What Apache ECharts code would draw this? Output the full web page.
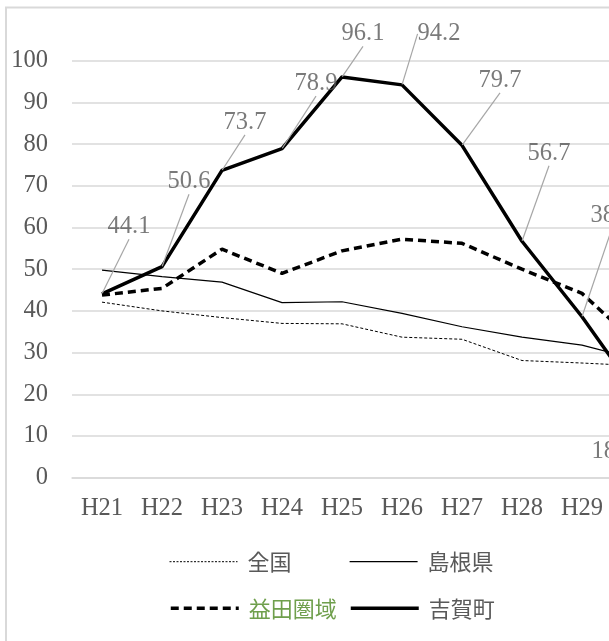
<!DOCTYPE html>
<html><head><meta charset="utf-8">
<script src="https://cdn.jsdelivr.net/npm/echarts@6/dist/echarts.min.js"></script>
<style>html,body{margin:0;padding:0;background:#fff}#c{width:609px;height:641px}</style>
</head><body><div id="c"></div>
<script>
// ---- data ----
const categories = ['H21','H22','H23','H24','H25','H26','H27','H28','H29','H30'];
const zenkoku = [42.1, 40.0, 38.4, 37.0, 36.9, 33.7, 33.2, 28.1, 27.5, 26.8];
const shimane = [49.8, 48.2, 46.9, 42.0, 42.2, 39.4, 36.2, 33.7, 31.8, 28.0];
const masuda  = [43.8, 45.4, 54.8, 49.0, 54.4, 57.2, 56.2, 50.0, 44.2, 31.0];
const yoshika = [44.1, 50.6, 73.7, 78.9, 96.1, 94.2, 79.7, 56.7, 38.6, 18.4];
const yMin = 0, yMax = 100, yInterval = 10;
const seriesNames = ['全国', '島根県', '益田圏域', '吉賀町'];

// ---- styling ----
const NUM_FONT = 'Liberation Serif';
const CJK_FONT = 'Noto Sans CJK JP';
const TEXT = '#595959';
const GRID = '#d9d9d9';
// data-label displacement (dx, dy) from each point, like the dragged Excel labels
const labelShift = [[27,-67],[27,-85],[23,-48],[34,-65],[21,-43],[37,-51],[38,-65],[27,-88],[30,-101],[-29,51]];

function mkLegend(name, left, cy, color, line) {
  return {
    data: [name], left: left, top: cy - 11, orient: 'horizontal',
    itemWidth: 68, itemHeight: 22, padding: 0, itemGap: 0, selectedMode: false,
    itemStyle: { opacity: 0 },
    lineStyle: line,
    textStyle: { fontFamily: CJK_FONT, fontSize: 22, color: color, padding: [0,0,0,5], lineHeight: 22 }
  };
}

const chart = echarts.init(document.getElementById('c'), null, { renderer: 'canvas' });
chart.setOption({
  animation: false,
  backgroundColor: '#fff',
  graphic: [{
    type: 'rect', silent: true, z: -10,
    shape: { x: 6, y: 7.5, width: 900, height: 900 },
    style: { fill: 'none', stroke: GRID, lineWidth: 2 }
  }],
  grid: { left: 72, top: 60.7, width: 600, height: 417, outerBoundsMode: 'none', containLabel: false },
  legend: [
    mkLegend(seriesNames[0], 169, 561.7, TEXT, { color: '#000', width: 1, type: [2, 1.5] }),
    mkLegend(seriesNames[1], 349, 561.7, TEXT, { color: '#000', width: 1.2, type: 'solid' }),
    mkLegend(seriesNames[2], 169, 608.3, '#6f9f4c', { color: '#000', width: 3.5, type: [8, 5] }),
    mkLegend(seriesNames[3], 349, 608.3, TEXT, { color: '#000', width: 3.5, type: 'solid' })
  ],
  xAxis: {
    type: 'category', data: categories, boundaryGap: true,
    axisLine: { lineStyle: { color: GRID, width: 1.5 } },
    axisTick: { show: false },
    axisLabel: { fontFamily: NUM_FONT, fontSize: 24.5, color: TEXT, margin: 18, interval: 0 }
  },
  yAxis: {
    type: 'value', min: yMin, max: yMax, interval: yInterval,
    axisLine: { show: false }, axisTick: { show: false },
    splitLine: { lineStyle: { color: GRID, width: 1.5 } },
    axisLabel: { fontFamily: NUM_FONT, fontSize: 24.5, color: TEXT, margin: 24 }
  },
  series: [
    { name: seriesNames[0], type: 'line', data: zenkoku, symbol: 'none', z: 2,
      lineStyle: { color: '#000', width: 1, type: [3, 2] } },
    { name: seriesNames[1], type: 'line', data: shimane, symbol: 'none', z: 2,
      lineStyle: { color: '#000', width: 1.2 } },
    { name: seriesNames[2], type: 'line', data: masuda, symbol: 'none', z: 3,
      lineStyle: { color: '#000', width: 3.5, type: [8, 5] } },
    { name: seriesNames[3], type: 'line', data: yoshika, symbol: 'none', z: 4,
      lineStyle: { color: '#000', width: 3.5, join: 'round' } },
    { name: '吉賀町ラベル', type: 'scatter', data: yoshika, symbolSize: 1, z: 5, silent: true,
      itemStyle: { color: 'rgba(0,0,0,0)' },
      label: { show: true, position: 'inside', formatter: p => p.value.toFixed(1),
               fontFamily: NUM_FONT, fontSize: 24.5, color: TEXT, padding: [7, 3, 7, 3] },
      labelLine: { show: true, lineStyle: { color: '#a6a6a6', width: 1.2 } },
      labelLayout: p => ({ dx: labelShift[p.dataIndex][0], dy: labelShift[p.dataIndex][1] })
    }
  ]
});
</script></body></html>
